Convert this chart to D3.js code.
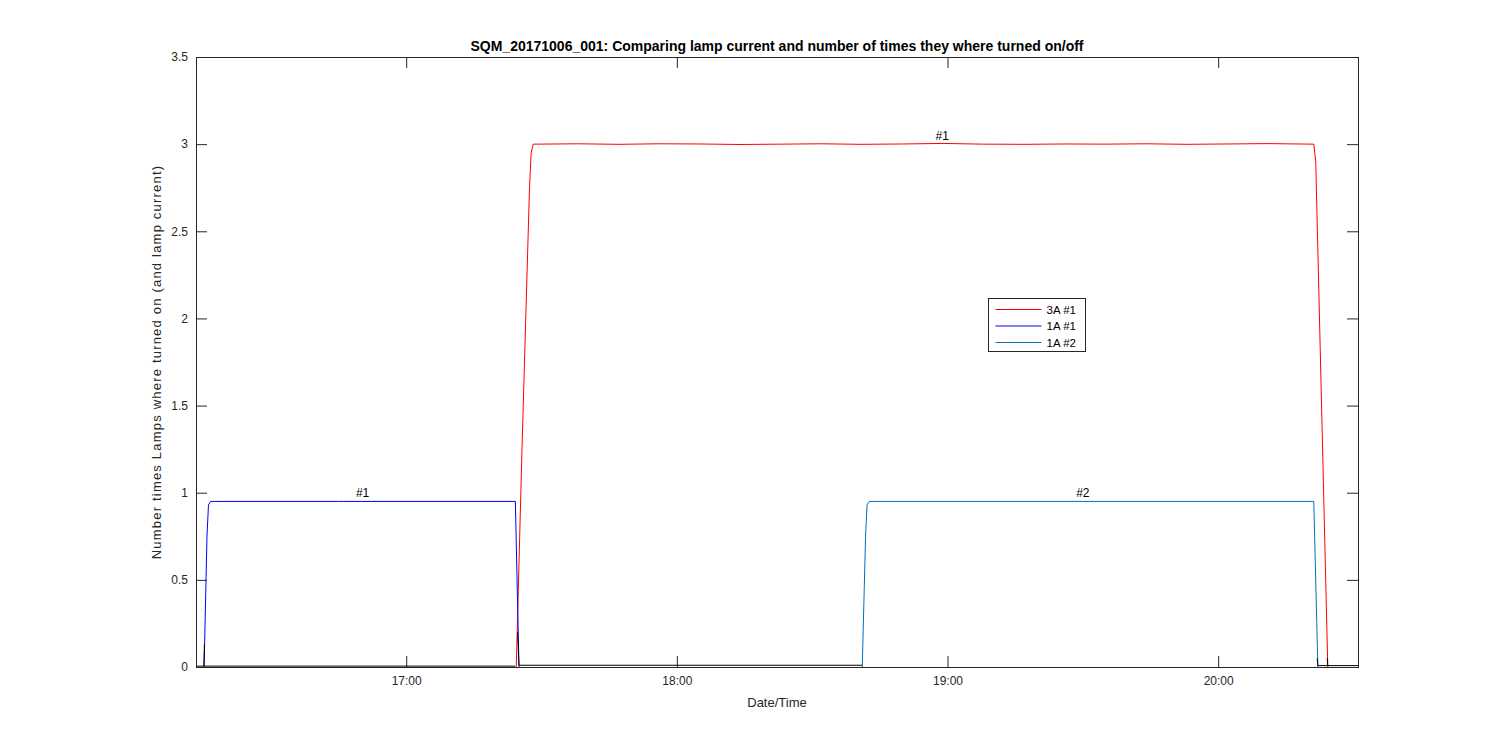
<!DOCTYPE html>
<html>
<head>
<meta charset="utf-8">
<script src="https://cdn.jsdelivr.net/npm/d3@7"></script>
<style>
  body { margin: 0; background: #fff; }
  svg { font-family: "Liberation Sans", Arial, sans-serif; }
  .axis path { display: none; }
  .axis line { stroke: #262626; }
  .axis text { fill: #262626; font-size: 12px; }
</style>
</head>
<body>
<div id="chart"></div>
<script>
var width = 1500;
var height = 750;

// plot area (pixel box of the axes)
var plotLeft = 196, plotRight = 1358, plotTop = 57, plotBottom = 667;

var dayStr = "2017-10-06 ";
var xStart = "16:13:24";
var xEnd = "20:31:00";

var xTicks = ["17:00:00", "18:00:00", "19:00:00", "20:00:00"];
var yTicks = [0, 0.5, 1, 1.5, 2, 2.5, 3, 3.5];

// 3A lamp #1 (red)
var t3A1 = ["17:24:24", "17:25:40", "17:27:20", "17:27:42", "17:28:10", "17:29:00", "17:38:00", "17:47:00", "17:56:00",
            "18:05:00", "18:14:00", "18:23:00", "18:32:00", "18:41:00", "18:50:00", "18:59:00", "19:08:00", "19:17:00",
            "19:26:00", "19:35:00", "19:44:00", "19:53:00", "20:02:00", "20:11:00", "20:21:12",
            "20:21:38", "20:24:18"];
var v3A1 = [0, 1.25, 2.75, 2.95, 3.0, 3.0, 3.002, 2.999, 3.002,
            3.001, 2.998, 3.0, 3.002, 2.999, 3.001, 3.004, 3.0, 2.999,
            3.001, 3.0, 3.002, 2.999, 3.001, 3.003, 3.0,
            2.9, 0];

// 1A lamp #1 (blue)
var t1A1 = ["16:15:12", "16:15:50", "16:16:10", "16:16:40", "16:45:00", "17:24:12", "17:25:00"];
var v1A1 = [0, 0.75, 0.93, 0.95, 0.95, 0.95, 0];

// 1A lamp #2 (matlab default blue)
var t1A2 = ["18:41:06", "18:41:50", "18:42:10", "18:42:40", "19:30:00", "20:21:12", "20:22:06"];
var v1A2 = [0, 0.75, 0.93, 0.95, 0.95, 0.95, 0];

// black trace where lamps are off (null = gap)
var tOff = ["16:13:24", "16:15:08", "16:15:16", "16:15:16", "16:15:08", "17:24:10", "17:24:10",
            "17:24:42", "17:25:00", "18:41:06", "18:41:06", "20:21:58", "20:22:06", "20:31:00",
            "20:31:00", "20:24:10", "20:24:18"];
var vOff = [0.005, 0.005, 0.13, null, 0.005, 0.005, null,
            0.2, 0.01, 0.01, null, 0.05, 0.008, 0.008,
            null, 0.05, 0.008];

var seriesNames = ["3A #1", "1A #1", "1A #2"];
var seriesColors = ["#ff0000", "#0000ff", "#0072bd"];

var labelText = ["#1", "#1", "#2"];
var labelTime = ["16:50:20", "18:58:50", "19:30:00"];
var labelValue = [0.95, 3.0, 0.95];

var parseTime = d3.timeParse("%Y-%m-%d %H:%M:%S");
function pt(s) { return parseTime(dayStr + s); }

var x = d3.scaleTime()
  .domain([pt(xStart), pt(xEnd)])
  .range([plotLeft, plotRight]);

var y = d3.scaleLinear()
  .domain([0, 3.5])
  .range([plotBottom, plotTop]);

var svg = d3.select("#chart")
  .append("svg")
  .attr("width", width)
  .attr("height", height);

/* Axes with inward ticks on all four sides */
var fmt = function(d) { return String(d); };

svg.append("g")
  .attr("class", "axis")
  .attr("transform", `translate(0, ${plotBottom})`)
  .call(d3.axisBottom(x).tickValues(xTicks.map(pt)).tickFormat(d3.timeFormat("%H:%M"))
    .tickSizeInner(-11).tickSizeOuter(0).tickPadding(9));

svg.append("g")
  .attr("class", "axis")
  .attr("transform", `translate(0, ${plotTop})`)
  .call(d3.axisTop(x).tickValues(xTicks.map(pt)).tickFormat("")
    .tickSizeInner(-11).tickSizeOuter(0));

svg.append("g")
  .attr("class", "axis")
  .attr("transform", `translate(${plotLeft}, 0)`)
  .call(d3.axisLeft(y).tickValues(yTicks).tickFormat(fmt)
    .tickSizeInner(-11).tickSizeOuter(0).tickPadding(8));

svg.append("g")
  .attr("class", "axis")
  .attr("transform", `translate(${plotRight}, 0)`)
  .call(d3.axisRight(y).tickValues(yTicks).tickFormat("")
    .tickSizeInner(-11).tickSizeOuter(0));

/* Lines */
var line = d3.line()
  .defined(d => d.v !== null)
  .x(d => x(d.t))
  .y(d => y(d.v));

function zip(ts, vs) {
  return ts.map((t, i) => ({ t: pt(t), v: vs[i] }));
}

var series = [zip(t3A1, v3A1), zip(t1A1, v1A1), zip(t1A2, v1A2)];

var lines = svg.append("g").attr("class", "lines");

lines.selectAll(".line")
  .data(series)
  .enter()
  .append("path")
  .attr("class", "line")
  .attr("d", d => line(d))
  .attr("fill", "none")
  .attr("stroke", (d, i) => seriesColors[i])
  .attr("stroke-width", 1);

lines.append("path")
  .attr("d", line(zip(tOff, vOff)))
  .attr("fill", "none")
  .attr("stroke", "#000")
  .attr("stroke-width", 1);

/* Frame */
svg.append("rect")
  .attr("x", plotLeft + 0.5).attr("y", plotTop + 0.5)
  .attr("width", plotRight - plotLeft).attr("height", plotBottom - plotTop)
  .attr("fill", "none")
  .attr("stroke", "#262626")
  .attr("stroke-width", 1);

/* Lamp labels */
svg.selectAll(".lamp-label")
  .data(labelText)
  .enter()
  .append("text")
  .attr("class", "lamp-label")
  .attr("x", (d, i) => x(pt(labelTime[i])))
  .attr("y", (d, i) => y(labelValue[i]) - 4)
  .attr("text-anchor", "middle")
  .style("font-size", "12px")
  .attr("fill", "#000")
  .text(d => d);

/* Titles */
svg.append("text")
  .attr("x", (plotLeft + plotRight) / 2)
  .attr("y", 51)
  .attr("text-anchor", "middle")
  .style("font-size", "14px")
  .style("font-weight", "bold")
  .attr("fill", "#000")
  .text("SQM_20171006_001: Comparing lamp current and number of times they where turned on/off");

svg.append("text")
  .attr("x", (plotLeft + plotRight) / 2)
  .attr("y", 707)
  .attr("text-anchor", "middle")
  .style("font-size", "13px")
  .attr("fill", "#262626")
  .text("Date/Time");

svg.append("text")
  .attr("transform", `translate(161, ${(plotTop + plotBottom) / 2}) rotate(-90)`)
  .attr("text-anchor", "middle")
  .style("font-size", "13px")
  .style("letter-spacing", "1.2px")
  .attr("fill", "#262626")
  .text("Number times Lamps where turned on (and lamp current)");

/* Legend */
var legend = svg.append("g").attr("transform", "translate(988.5, 298.5)");

legend.append("rect")
  .attr("width", 97)
  .attr("height", 53)
  .attr("fill", "#fff")
  .attr("stroke", "#262626");

var item = legend.selectAll(".legend")
  .data(seriesNames)
  .enter()
  .append("g")
  .attr("class", "legend")
  .attr("transform", (d, i) => `translate(0, ${11 + i * 16.5})`);

item.append("line")
  .attr("x1", 7).attr("x2", 53)
  .attr("stroke", (d, i) => seriesColors[i])
  .attr("stroke-width", 1);

item.append("text")
  .attr("x", 58)
  .attr("dy", ".35em")
  .style("font-size", "11.5px")
  .attr("fill", "#000")
  .text(d => d);
</script>
</body>
</html>
